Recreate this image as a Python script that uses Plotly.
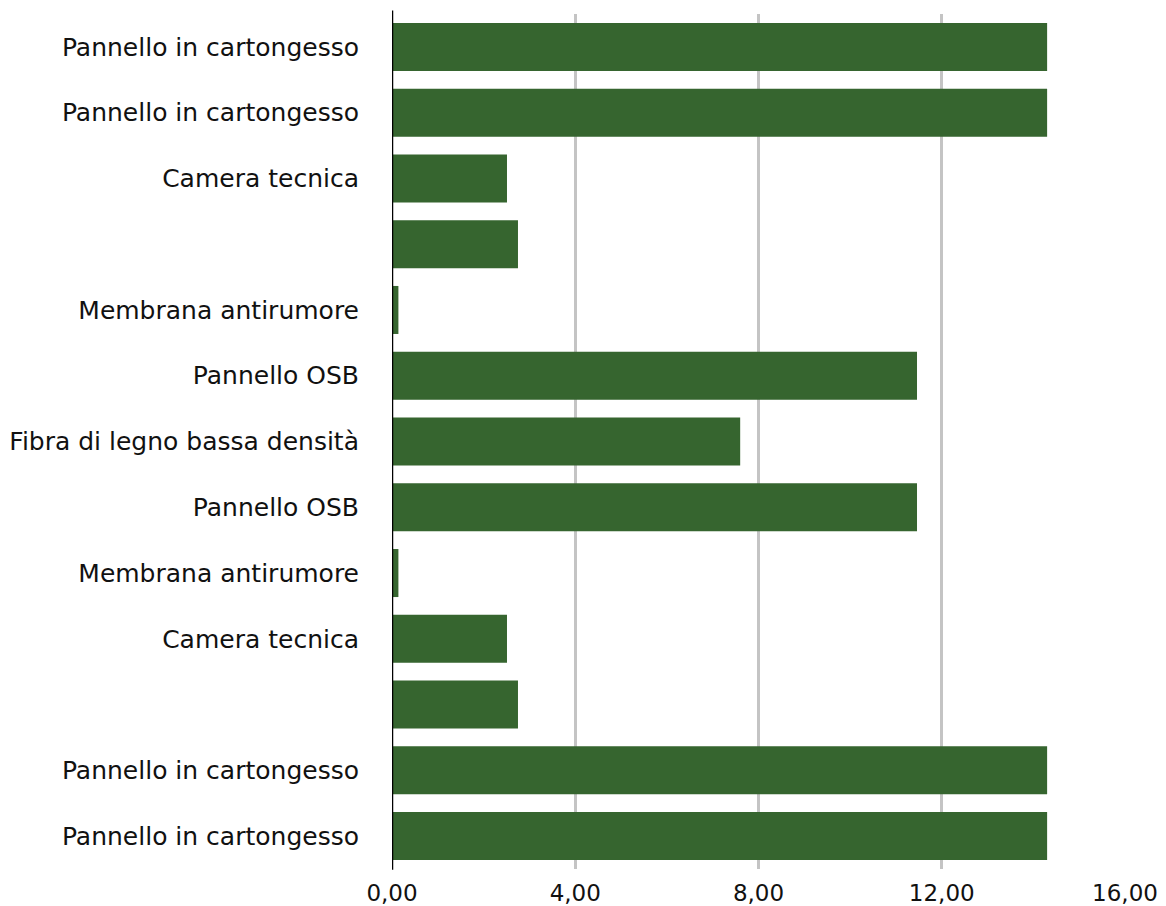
import plotly.graph_objects as go

labels = [
    "Pannello in cartongesso",
    "Pannello in cartongesso",
    "Camera tecnica",
    "",
    "Membrana antirumore",
    "Pannello OSB",
    "Fibra di legno bassa densità",
    "Pannello OSB",
    "Membrana antirumore",
    "Camera tecnica",
    "",
    "Pannello in cartongesso",
    "Pannello in cartongesso",
]
values = [14.30, 14.30, 2.51, 2.75, 0.14, 11.46, 7.60, 11.46, 0.14, 2.51, 2.75, 14.30, 14.30]
x_ticks = [0, 4, 8, 12, 16]

positions = list(range(len(labels)))

fig = go.Figure(
    go.Bar(
        x=values,
        y=positions,
        orientation="h",
        marker=dict(color="#36652F", line=dict(width=0)),
        width=0.73,
        hoverinfo="x",
    )
)

font_family = "DejaVu Sans, Liberation Sans, Arial, sans-serif"

fig.update_layout(
    width=1166,
    height=906,
    margin=dict(l=392, r=41, t=14, b=37, autoexpand=False),
    paper_bgcolor="white",
    plot_bgcolor="white",
    separators=",.",
    showlegend=False,
    font=dict(family=font_family, color="#111111", size=22),
    xaxis=dict(
        range=[0, 16],
        tickvals=x_ticks,
        tickformat=".2f",
        showgrid=True,
        gridcolor="#C4C4C4",
        gridwidth=2.6,
        zeroline=False,
        showline=False,
        ticks="",
        tickfont=dict(size=23, family=font_family),
        ticklabelstandoff=8,
        automargin=False,
        fixedrange=True,
    ),
    yaxis=dict(
        range=[12.5, -0.5],
        tickvals=positions,
        ticktext=labels,
        showgrid=False,
        zeroline=False,
        showline=False,
        ticks="",
        tickfont=dict(size=25, family=font_family),
        ticklabelstandoff=32,
        automargin=False,
        fixedrange=True,
    ),
)

# axis line at x = 0
fig.add_shape(
    type="line", xref="x", yref="paper", x0=0, x1=0, y0=-0.001, y1=1.004,
    line=dict(color="#000000", width=2.5), layer="above",
)

fig.write_html(
    "out.html",
    config={"displayModeBar": False},
    post_script="document.body.style.margin='0';document.body.style.overflow='hidden';",
)
